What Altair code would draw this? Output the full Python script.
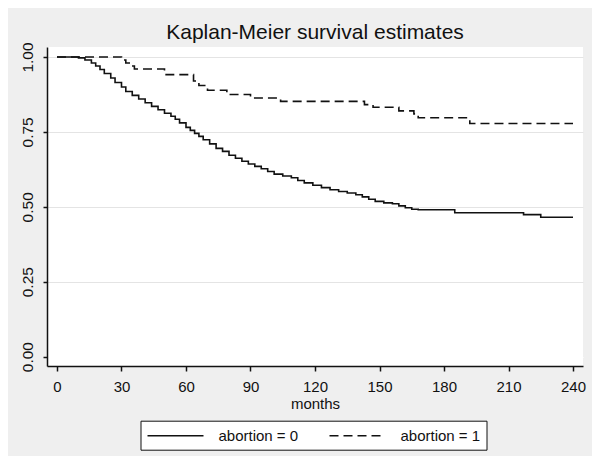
import altair as alt
import pandas as pd

# abortion = 0 (solid) : step times (months) and survival estimates
t0 = [0, 10, 13, 16, 18, 20, 22, 25, 27, 30, 32, 35, 38, 41, 44, 47, 50, 53, 55, 57,
      60, 62, 64, 66, 68, 71, 74, 77, 80, 83, 86, 89, 92, 95, 98, 101, 105, 109, 112,
      115, 119, 123, 127, 131, 135, 139, 142, 145, 148, 152, 156, 159, 162, 165, 168,
      185, 217, 225, 240]
s0 = [1.0, 0.997, 0.99, 0.98, 0.97, 0.958, 0.945, 0.93, 0.915, 0.9, 0.885, 0.872, 0.86,
      0.847, 0.835, 0.824, 0.812, 0.802, 0.792, 0.78, 0.765, 0.755, 0.745, 0.735, 0.724,
      0.71, 0.695, 0.685, 0.672, 0.662, 0.652, 0.643, 0.635, 0.627, 0.618, 0.609, 0.603,
      0.597, 0.588, 0.58, 0.572, 0.564, 0.557, 0.551, 0.546, 0.54, 0.533, 0.525, 0.518,
      0.513, 0.51, 0.503, 0.497, 0.492, 0.49, 0.48, 0.474, 0.465, 0.465]

# abortion = 1 (dashed)
t1 = [0, 30, 32, 34, 36, 50, 63.5, 66, 70, 79, 90, 104, 143, 147, 159, 166, 168, 192, 240]
s1 = [1.0, 0.99, 0.98, 0.97, 0.96, 0.941, 0.92, 0.905, 0.889, 0.875, 0.863, 0.852,
      0.841, 0.832, 0.82, 0.81, 0.797, 0.778, 0.778]

groups = ["abortion = 0", "abortion = 1"]
x_ticks = [0, 30, 60, 90, 120, 150, 180, 210, 240]
y_ticks = [0, 0.25, 0.5, 0.75, 1.0]

df = pd.concat([
    pd.DataFrame({"months": t0, "surv": s0, "group": groups[0]}),
    pd.DataFrame({"months": t1, "surv": s1, "group": groups[1]}),
], ignore_index=True)

FONT = "Liberation Sans"
INK = "#111111"

chart = alt.Chart(df).mark_line(
    interpolate="step-after", strokeWidth=1.6, color=INK
).encode(
    x=alt.X(
        "months:Q",
        scale=alt.Scale(domain=[-4.65, 244.65], nice=False, zero=False),
        axis=alt.Axis(
            values=x_ticks, format="d", title="months", grid=False,
            labelFont=FONT, labelFontSize=15, labelColor=INK, labelPadding=8,
            labelBaseline="top",
            tickSize=5, tickColor=INK, tickWidth=1.5,
            domainColor=INK, domainWidth=1.5,
            titleFont=FONT, titleFontSize=15, titleFontWeight="normal", titleColor=INK,
            titleBaseline="alphabetic", titleY=42,
        ),
    ),
    y=alt.Y(
        "surv:Q",
        scale=alt.Scale(domain=[-0.0313, 1.0333], nice=False, zero=False),
        axis=alt.Axis(
            values=y_ticks, format=".2f", title=None,
            labelAngle=270, labelAlign="center", labelBaseline="alphabetic",
            labelFont=FONT, labelFontSize=15.5, labelColor=INK, labelPadding=11,
            tickSize=4, tickColor=INK, tickWidth=1.5,
            domainColor=INK, domainWidth=1.5,
            grid=True, gridWidth=1,
            gridColor={"condition": {"test": "datum.value === 0", "value": "#ffffff"},
                       "value": "#e4e4e4"},
        ),
    ),
    strokeDash=alt.StrokeDash(
        "group:N",
        scale=alt.Scale(domain=groups, range=[[1, 0], [9, 5]]),
        legend=alt.Legend(
            title=None, orient="none", legendX=93.5, legendY=373.7,
            direction="horizontal", symbolType="M-1,0H6", symbolSize=256,
            symbolStrokeWidth=1.5, symbolStrokeColor=INK,
            labelFont=FONT, labelFontSize=15, labelColor=INK, labelOffset=54,
            columnPadding=28, padding=6,
            strokeColor=INK, fillColor="white",
        ),
    ),
).properties(
    width=536,
    height=319,
    title=alt.Title(
        "Kaplan-Meier survival estimates", font=FONT, fontSize=21,
        fontWeight="normal", color=INK, anchor="middle", frame="group",
        baseline="alphabetic", offset=8, dy=26,
    ),
    autosize=alt.AutoSizeParams(type="none"),
    padding={"left": 39, "top": 39, "right": 9, "bottom": 90},
).configure(
    background="#efefef"
).configure_view(
    fill="white", stroke=None
)

chart.save("out.html", embed_options={"renderer": "svg", "actions": False})
